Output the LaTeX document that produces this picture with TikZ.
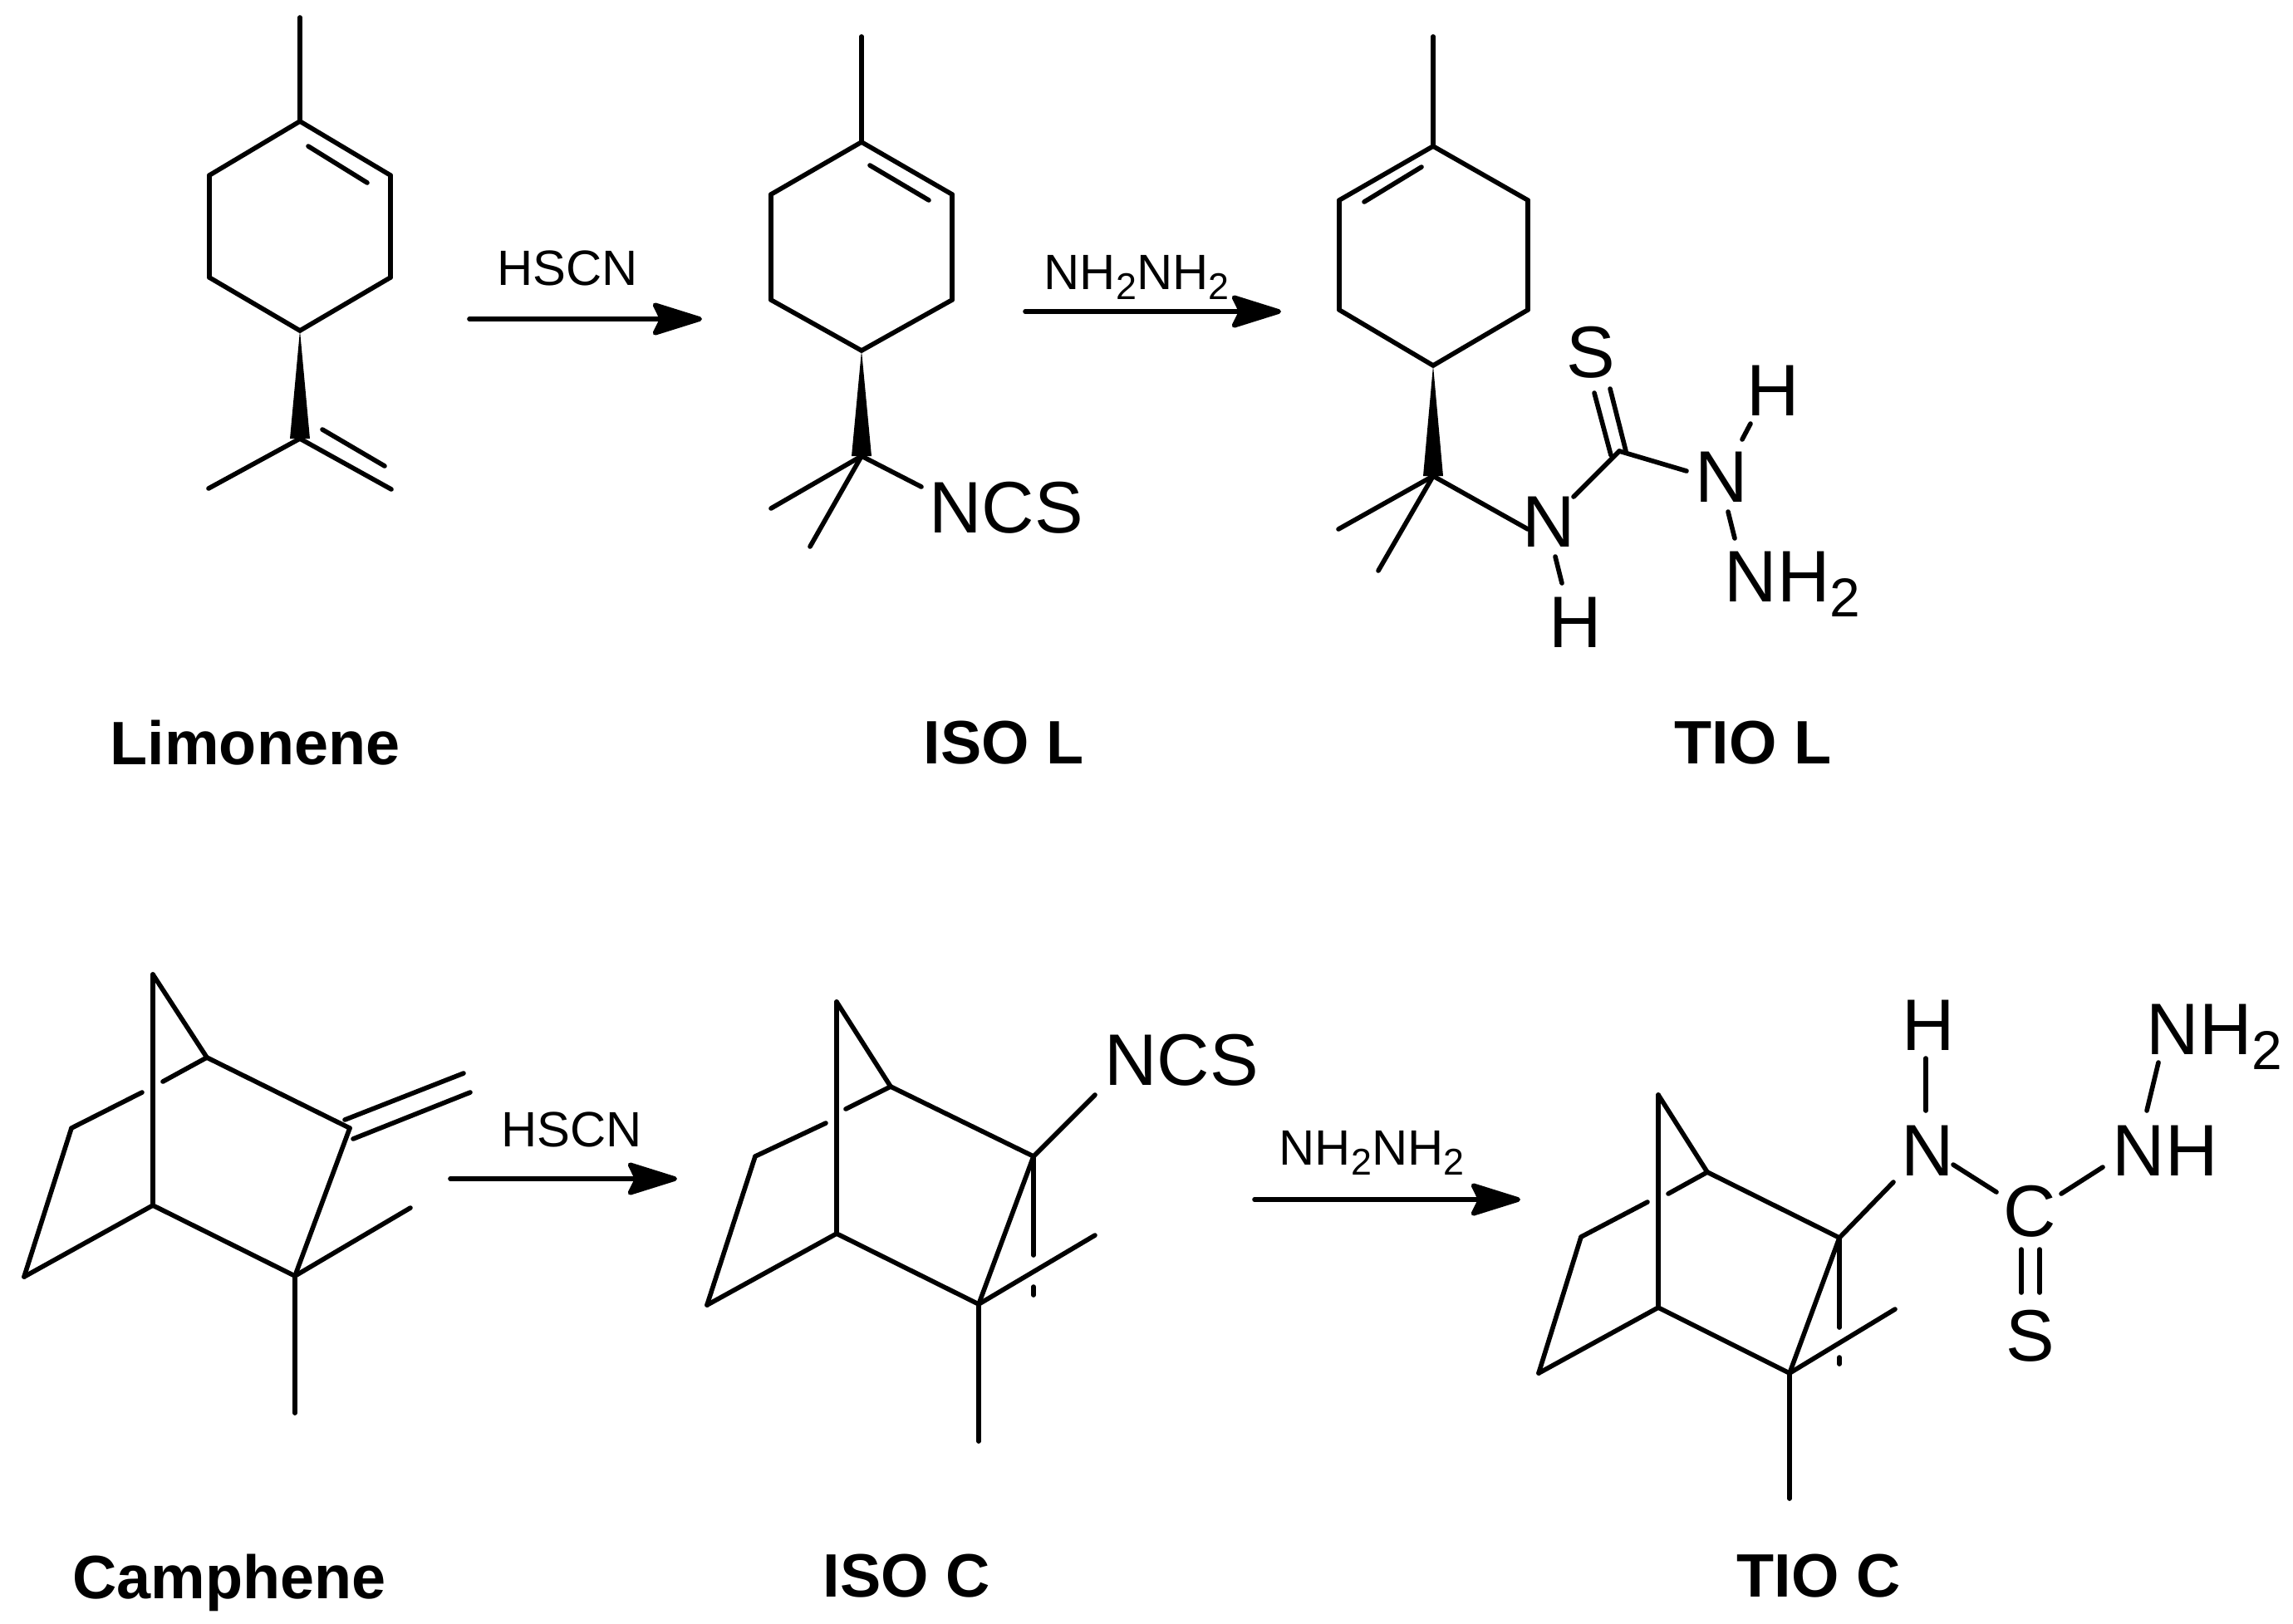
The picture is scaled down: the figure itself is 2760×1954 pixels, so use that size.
\documentclass[tikz,border=0pt]{standalone}
\usepackage{fontspec}
\setmainfont{Liberation Sans}
\usetikzlibrary{arrows.meta}
\tikzset{>={Stealth[length=6.8mm,width=4.2mm,inset=1mm,round]}}
\tikzset{atomlabel/.style={inner sep=0pt,font=\fontsize{25}{30}\selectfont}}
\tikzset{arrowlabel/.style={inner sep=0pt,font=\fontsize{17}{20}\selectfont}}
\tikzset{molname/.style={inner sep=0pt,font=\fontsize{21}{25}\selectfont\bfseries}}
\newcommand{\subtwo}{\raisebox{-0.2em}{\scalebox{0.75}{2}}}
\newcommand{\wedgebond}[2]{\fill (#1) -- ([xshift=-1.2mm]#2) -- ([xshift=1.2mm]#2) -- cycle;}

\begin{document}
\begin{tikzpicture}[x=0.1mm,y=-0.1mm]
\useasboundingbox (0,0) rectangle (2760,1954);

% Limonene
\coordinate (L0) at (361,21);
\coordinate (L1) at (361,146);
\coordinate (L2) at (470,211);
\coordinate (L3) at (470,334);
\coordinate (L4) at (361,398);
\coordinate (L5) at (252,334);
\coordinate (L6) at (252,211);
\coordinate (L7) at (361,528);
\coordinate (L8) at (251,588);
\coordinate (L9) at (471,589);
\coordinate (La) at (371,176);
\coordinate (Lb) at (442,220);
\coordinate (Lc) at (388,517);
\coordinate (Ld) at (463,561);

% ISO L
\coordinate (I0) at (1037,44);
\coordinate (I1) at (1037,171);
\coordinate (I2) at (1146,234);
\coordinate (I3) at (1146,361);
\coordinate (I4) at (1037,422);
\coordinate (I5) at (928,361);
\coordinate (I6) at (928,234);
\coordinate (I7) at (1037,549);
\coordinate (I8) at (928,612);
\coordinate (I9) at (975,658);
\coordinate (Ia) at (1047,199);
\coordinate (Ib) at (1118,241);
\coordinate (Ic) at (1109,586);

% TIO L
\coordinate (T0) at (1725,44);
\coordinate (T1) at (1725,176);
\coordinate (T2) at (1612,241);
\coordinate (T3) at (1612,373);
\coordinate (T4) at (1725,440);
\coordinate (T5) at (1839,373);
\coordinate (T6) at (1839,241);
\coordinate (T7) at (1725,573);
\coordinate (T8) at (1611,637);
\coordinate (T9) at (1659,687);
\coordinate (Ta) at (1711,201);
\coordinate (Tb) at (1642,243);
\coordinate (Tc) at (1839,637);
\coordinate (Td) at (1949,543);
\coordinate (Te) at (1894,598);
\coordinate (Tf) at (1872,670);
\coordinate (Tg) at (1880,702);
\coordinate (Th) at (2030,567);
\coordinate (Ti) at (1919,473);
\coordinate (Tj) at (1939,548);
\coordinate (Tk) at (1938,468);
\coordinate (Tl) at (1957,543);
\coordinate (Tm) at (2107,510);
\coordinate (Tn) at (2097,529);
\coordinate (To) at (2080,616);
\coordinate (Tp) at (2088,648);

% Camphene
\coordinate (C1) at (184,1173);
\coordinate (C2) at (184,1451);
\coordinate (C3) at (249,1273);
\coordinate (C4) at (421,1358);
\coordinate (C5) at (355,1536);
\coordinate (C6) at (86,1358);
\coordinate (C7) at (29,1537);
\coordinate (C8) at (494,1454);
\coordinate (C9) at (355,1701);
\coordinate (Ca) at (171,1315);
\coordinate (Cb) at (196,1302);
\coordinate (Cc) at (415,1348);
\coordinate (Cd) at (558,1292);
\coordinate (Ce) at (425,1371);
\coordinate (Cf) at (566,1315);

% ISO C
\coordinate (D1) at (1007,1206);
\coordinate (D2) at (1007,1485);
\coordinate (D3) at (1072,1308);
\coordinate (D4) at (1244,1392);
\coordinate (D5) at (1178,1570);
\coordinate (D6) at (909,1392);
\coordinate (D7) at (851,1571);
\coordinate (D8) at (1318,1487);
\coordinate (D9) at (1178,1735);
\coordinate (Da) at (994,1352);
\coordinate (Db) at (1018,1335);
\coordinate (Dc) at (1318,1318);
\coordinate (Dd) at (1244,1511);
\coordinate (De) at (1244,1549);
\coordinate (Df) at (1244,1559);

% TIO C
\coordinate (U1) at (1996,1318);
\coordinate (U2) at (1996,1574);
\coordinate (U3) at (2055,1411);
\coordinate (U4) at (2214,1490);
\coordinate (U5) at (2154,1653);
\coordinate (U6) at (1903,1489);
\coordinate (U7) at (1852,1653);
\coordinate (U8) at (2281,1576);
\coordinate (U9) at (2154,1804);
\coordinate (Ua) at (1983,1447);
\coordinate (Ub) at (2008,1437);
\coordinate (Uc) at (2279,1423);
\coordinate (Ud) at (2214,1598);
\coordinate (Ue) at (2214,1634);
\coordinate (Uf) at (2214,1642);
\coordinate (Ug) at (2318,1274);
\coordinate (Uh) at (2318,1337);
\coordinate (Ui) at (2351,1402);
\coordinate (Uj) at (2403,1435);
\coordinate (Uk) at (2481,1437);
\coordinate (Ul) at (2531,1405);
\coordinate (Um) at (2598,1279);
\coordinate (Un) at (2584,1337);
\coordinate (Uo) at (2433,1504);
\coordinate (Up) at (2433,1556);
\coordinate (Uq) at (2455,1504);
\coordinate (Ur) at (2455,1556);

% reaction arrows
\coordinate (A1) at (565,384);
\coordinate (A2) at (845,384);
\coordinate (A3) at (1234,375);
\coordinate (A4) at (1542,375);
\coordinate (A5) at (542,1419);
\coordinate (A6) at (815,1419);
\coordinate (A7) at (1510,1444);
\coordinate (A8) at (1830,1444);

\begin{scope}[every node/.style={atomlabel}]
\node (ncsI) at (1211,611) {NCS};
\node (sT) at (1915,424) {S};
\node (n1T) at (1864,628) {N};
\node (h1T) at (1896,749) {H};
\node (n2T) at (2072,574) {N};
\node (h2T) at (2134,470) {H};
\node [anchor=west] (nh2T) at (2075,703) {NH\subtwo};
\node (ncsD) at (1422,1276) {NCS};
\node (hU) at (2321,1234) {H};
\node (nU) at (2320,1385) {N};
\node (cU) at (2443,1458) {C};
\node (sU) at (2444,1608) {S};
\node (nhU) at (2606,1385) {NH};
\node [anchor=west] (nh2U) at (2583,1248) {NH\subtwo};
\end{scope}

\begin{scope}[every node/.style={arrowlabel}]
\node (hscn1) at (683,323) {HSCN};
\node (hyd1) at (1368,334) {NH\subtwo NH\subtwo};
\node (hscn2) at (688,1360) {HSCN};
\node (hyd2) at (1651,1388) {NH\subtwo NH\subtwo};
\end{scope}

\begin{scope}[every node/.style={molname}]
\node (limonene) at (307,894) {Limonene};
\node (isoL) at (1208,894) {ISO L};
\node (tioL) at (2110,894) {TIO L};
\node (camphene) at (276,1905) {Camphene};
\node (isoC) at (1091,1897) {ISO C};
\node (tioC) at (2189,1897) {TIO C};
\end{scope}

\wedgebond{L4}{L7}
\wedgebond{I4}{I7}
\wedgebond{T4}{T7}

\begin{scope}[every edge/.style={draw=black,line width=1.6pt,line cap=round}]
    % Limonene
    \path (L0) edge (L1);
    \path (L1) edge (L2);
    \path (L2) edge (L3);
    \path (L3) edge (L4);
    \path (L4) edge (L5);
    \path (L5) edge (L6);
    \path (L6) edge (L1);
    \path (La) edge (Lb);
    \path (L7) edge (L8);
    \path (L7) edge (L9);
    \path (Lc) edge (Ld);

    % ISO L
    \path (I0) edge (I1);
    \path (I1) edge (I2);
    \path (I2) edge (I3);
    \path (I3) edge (I4);
    \path (I4) edge (I5);
    \path (I5) edge (I6);
    \path (I6) edge (I1);
    \path (Ia) edge (Ib);
    \path (I7) edge (I8);
    \path (I7) edge (I9);
    \path (I7) edge (Ic);

    % TIO L
    \path (T0) edge (T1);
    \path (T1) edge (T2);
    \path (T2) edge (T3);
    \path (T3) edge (T4);
    \path (T4) edge (T5);
    \path (T5) edge (T6);
    \path (T6) edge (T1);
    \path (Ta) edge (Tb);
    \path (T7) edge (T8);
    \path (T7) edge (T9);
    \path (T7) edge (Tc);
    \path (Te) edge (Td);
    \path (Td) edge (Th);
    \path (Tf) edge (Tg);
    \path (Ti) edge (Tj);
    \path (Tk) edge (Tl);
    \path (Tm) edge (Tn);
    \path (To) edge (Tp);

    % Camphene
    \path (C1) edge (C2);
    \path (C1) edge (C3);
    \path (C3) edge (C4);
    \path (C4) edge (C5);
    \path (C5) edge (C2);
    \path (C2) edge (C7);
    \path (C7) edge (C6);
    \path (C6) edge (Ca);
    \path (Cb) edge (C3);
    \path (C5) edge (C8);
    \path (C5) edge (C9);
    \path (Cc) edge (Cd);
    \path (Ce) edge (Cf);

    % ISO C
    \path (D1) edge (D2);
    \path (D1) edge (D3);
    \path (D3) edge (D4);
    \path (D4) edge (D5);
    \path (D5) edge (D2);
    \path (D2) edge (D7);
    \path (D7) edge (D6);
    \path (D6) edge (Da);
    \path (Db) edge (D3);
    \path (D5) edge (D8);
    \path (D5) edge (D9);
    \path (D4) edge (Dc);
    \path (D4) edge (Dd);
    \path (De) edge (Df);

    % TIO C
    \path (U1) edge (U2);
    \path (U1) edge (U3);
    \path (U3) edge (U4);
    \path (U4) edge (U5);
    \path (U5) edge (U2);
    \path (U2) edge (U7);
    \path (U7) edge (U6);
    \path (U6) edge (Ua);
    \path (Ub) edge (U3);
    \path (U5) edge (U8);
    \path (U5) edge (U9);
    \path (U4) edge (Uc);
    \path (U4) edge (Ud);
    \path (Ue) edge (Uf);
    \path (Ug) edge (Uh);
    \path (Ui) edge (Uj);
    \path (Uk) edge (Ul);
    \path (Um) edge (Un);
    \path (Uo) edge (Up);
    \path (Uq) edge (Ur);

    % reaction arrows
    \path [->] (A1) edge (A2);
    \path [->] (A3) edge (A4);
    \path [->] (A5) edge (A6);
    \path [->] (A7) edge (A8);
\end{scope}
\end{tikzpicture}
\end{document}
